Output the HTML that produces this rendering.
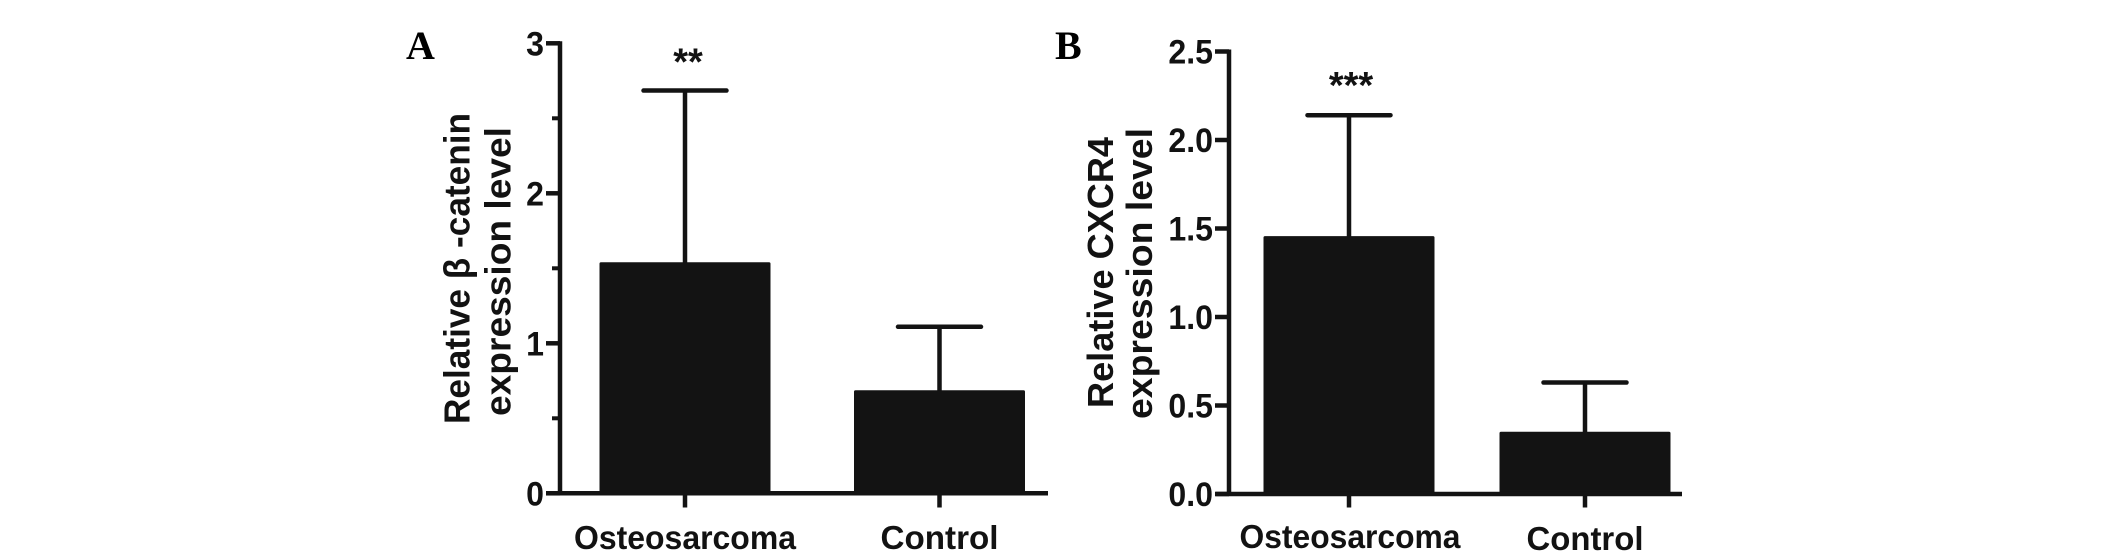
<!DOCTYPE html>
<html lang="en">
<head>
<meta charset="utf-8">
<title>Relative expression of β-catenin and CXCR4</title>
<style>
  html, body { margin: 0; padding: 0; background: #fff; }
  body { width: 2126px; height: 556px; overflow: hidden; }
  svg { display: block; }
  text { font-family: "Liberation Sans", sans-serif; fill: #121212; }
  .tick-text { font-weight: 700; font-size: 34.5px; }
  .cat-text { font-weight: 700; font-size: 33px; }
  .axis-title { font-weight: 700; font-size: 36.5px; }
  .panel-letter { font-family: "Liberation Serif", serif; font-weight: 700; font-size: 40px; fill: #000; }
  .sig { font-size: 38px; font-weight: 700; }
</style>
</head>
<body>
<svg id="figure" xmlns="http://www.w3.org/2000/svg" width="2126" height="556" viewBox="0 0 2126 556">
  <rect width="2126" height="556" fill="#ffffff"/>

  <text class="panel-letter" x="406" y="59">A</text>
  <text class="panel-letter" x="1055" y="59">B</text>

  <text class="axis-title" transform="translate(469.5 424) rotate(-90)" textLength="311" lengthAdjust="spacingAndGlyphs">Relative β -catenin</text>
  <text class="axis-title" transform="translate(510.5 416) rotate(-90)" textLength="289" lengthAdjust="spacingAndGlyphs">expression level</text>
  <text class="axis-title" transform="translate(1113 408) rotate(-90)" textLength="271" lengthAdjust="spacingAndGlyphs">Relative CXCR4</text>
  <text class="axis-title" transform="translate(1152 419) rotate(-90)" textLength="291" lengthAdjust="spacingAndGlyphs">expression level</text>

  <g id="panel-a"></g>
  <g id="panel-b"></g>
</svg>

<script>
// Shared data
const categories = ["Osteosarcoma", "Control"];

// Panel A: relative beta-catenin expression
const aMeans = [1.54, 0.687];
const aErrorTops = [2.685, 1.11];
const aMajorTicks = [0, 1, 2, 3];
const aMinorTicks = [0.5, 1.5, 2.5];
const aTickLabels = ["0", "1", "2", "3"];
const aSignificance = "**";

// Panel B: relative CXCR4 expression
const bMeans = [1.457, 0.352];
const bErrorTops = [2.14, 0.63];
const bMajorTicks = [0, 0.5, 1, 1.5, 2, 2.5];
const bMinorTicks = [];
const bTickLabels = ["0.0", "0.5", "1.0", "1.5", "2.0", "2.5"];
const bSignificance = "***";

const SVG_NS = "http://www.w3.org/2000/svg";
const INK = "#131313";

function shape(parent, tag, attrs) {
  const el = document.createElementNS(SVG_NS, tag);
  for (const key in attrs) el.setAttribute(key, attrs[key]);
  parent.appendChild(el);
  return el;
}

function drawPanel(cfg) {
  const root = document.getElementById(cfg.id);
  const yScale = function (v) { return cfg.y0 - v * cfg.unit; };
  const xScale = function (i) { return cfg.x0 + i * cfg.step; };
  const topValue = cfg.majorTicks[cfg.majorTicks.length - 1];

  const yAxis = shape(root, "line", { x1: cfg.axisX, x2: cfg.axisX, y1: yScale(topValue) - 2, y2: cfg.y0, stroke: INK, "stroke-width": 4.5 });
  
  

  cfg.means.forEach(function (mean, i) {
    const cx = xScale(i);
    const barTop = yScale(mean);

    const stem = shape(root, "line", { x1: cx, x2: cx, y1: yScale(cfg.errorTops[i]), y2: barTop + 1, stroke: INK, "stroke-width": 4.5 });
    
    

    const cap = shape(root, "line", { x1: cx - cfg.capHalf, x2: cx + cfg.capHalf, y1: yScale(cfg.errorTops[i]), y2: yScale(cfg.errorTops[i]), stroke: INK, "stroke-width": 4.5, "stroke-linecap": "round" });
    
    

    const bar = shape(root, "rect", { x: cx - cfg.barHalf, y: barTop, width: cfg.barHalf * 2, height: cfg.y0 - barTop, rx: 1.5, fill: INK });
    
    

    const catTick = shape(root, "line", { x1: cx, x2: cx, y1: cfg.y0, y2: 507.5, stroke: INK, "stroke-width": 4.5 });
    
    

    const catLabel = shape(root, "text", { class: "cat-text", x: cx + cfg.labelShift[i], y: cfg.catBaseline[i], "text-anchor": "middle", textLength: cfg.labelWidth[i], lengthAdjust: "spacingAndGlyphs" });
    catLabel.textContent = categories[i];
    
    
  });

  const xAxis = shape(root, "line", { x1: cfg.axisLeft, x2: cfg.axisRight, y1: cfg.y0, y2: cfg.y0, stroke: INK, "stroke-width": 4.5 });
  
  

  cfg.majorTicks.forEach(function (v, i) {
    const y = yScale(v);
    const tick = shape(root, "line", { x1: cfg.axisX - 14, x2: cfg.axisX, y1: y, y2: y, stroke: INK, "stroke-width": 4.5 });
    
    

    const label = shape(root, "text", { class: "tick-text", transform: "translate(" + cfg.tickLabelRight + " " + (y + 12) + ") scale(0.93 1)", "text-anchor": "end" });
    label.textContent = cfg.tickLabels[i];
    
    
  });

  cfg.minorTicks.forEach(function (v) {
    const y = yScale(v);
    const minor = shape(root, "line", { x1: cfg.axisX - 8, x2: cfg.axisX, y1: y, y2: y, stroke: INK, "stroke-width": 4 });
    
    
  });

  const sig = shape(root, "text", { class: "sig", x: xScale(0) + cfg.sigShift, y: yScale(cfg.errorTops[0]) + cfg.sigOffset, "text-anchor": "middle" });
  sig.textContent = cfg.significance;
  
  
}

drawPanel({
  id: "panel-a",
  means: aMeans, errorTops: aErrorTops,
  majorTicks: aMajorTicks, minorTicks: aMinorTicks, tickLabels: aTickLabels,
  significance: aSignificance,
  axisX: 560, axisLeft: 546, axisRight: 1048, y0: 493.3, unit: 150,
  x0: 685, step: 254.5, barHalf: 85.5, capHalf: 41.5,
  tickLabelRight: 544, catBaseline: [549, 549], labelShift: [0, 0], labelWidth: [222, 118],
  sigShift: 3, sigOffset: -16, 
});

drawPanel({
  id: "panel-b",
  means: bMeans, errorTops: bErrorTops,
  majorTicks: bMajorTicks, minorTicks: bMinorTicks, tickLabels: bTickLabels,
  significance: bSignificance,
  axisX: 1229, axisLeft: 1215.5, axisRight: 1682, y0: 494, unit: 177,
  x0: 1349, step: 236, barHalf: 85.5, capHalf: 41.5,
  tickLabelRight: 1213, catBaseline: [548, 550], labelShift: [1, 0], labelWidth: [221, 117],
  sigShift: 2, sigOffset: -17
});
</script>
</body>
</html>
